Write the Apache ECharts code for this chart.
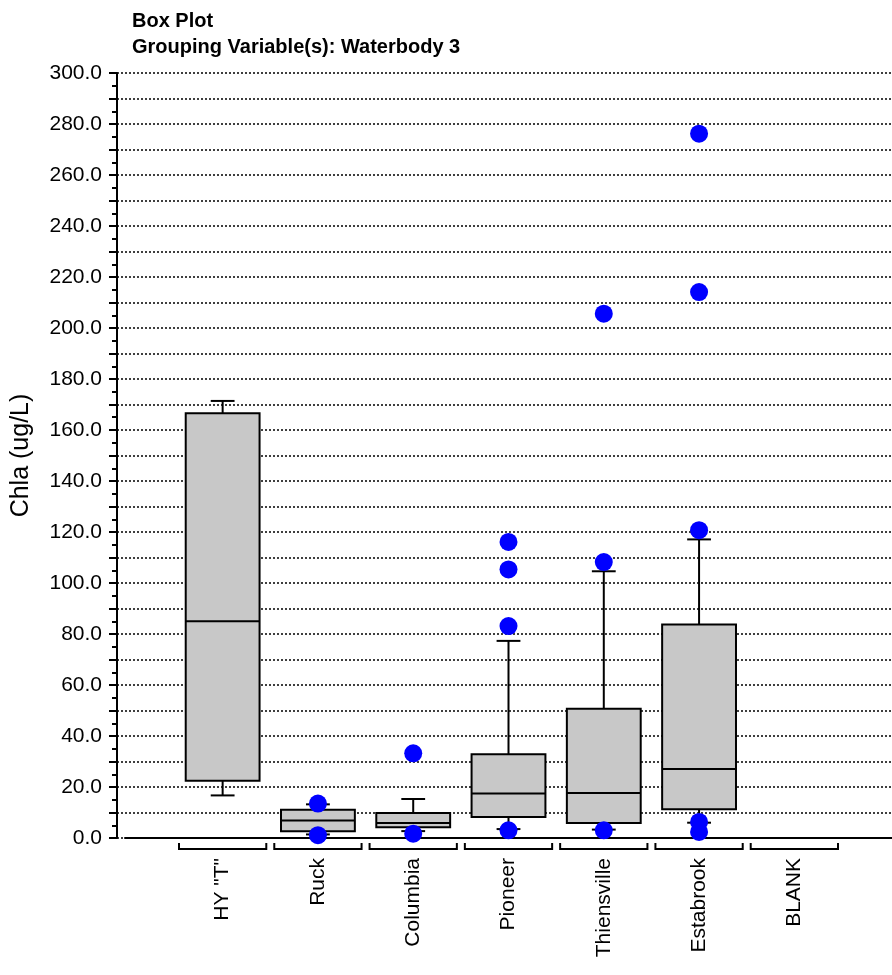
<!DOCTYPE html>
<html>
<head>
<meta charset="utf-8">
<script src="https://cdn.jsdelivr.net/npm/echarts@6/dist/echarts.min.js"></script>
<style>html,body{margin:0;padding:0;background:#fff}#c{width:892px;height:975px}</style>
</head>
<body>
<div id="c"></div>
<script>
// ---- data ----
const categories = ['HY "T"', 'Ruck', 'Columbia', 'Pioneer', 'Thiensville', 'Estabrook', 'BLANK'];
// [categoryIndex, lowerWhisker, q1, median, q3, upperWhisker]
const boxHY = [0, 16.7, 22.5, 85.0, 166.6, 171.4];
const boxRuck = [1, 1.4, 2.6, 6.9, 11.1, 13.2];
const boxColumbia = [2, 2.7, 4.2, 5.9, 9.8, 15.3];
const boxPioneer = [3, 3.5, 8.2, 17.5, 32.8, 77.3];
const boxThiensville = [4, 3.3, 5.9, 17.6, 50.7, 104.6];
const boxEstabrook = [5, 6.0, 11.3, 27.1, 83.7, 117.1];
// outliers [categoryIndex, value]
const outRuck = [[1, 13.5], [1, 1.1]];
const outColumbia = [[2, 33.2], [2, 1.7]];
const outPioneer = [[3, 116.1], [3, 105.3], [3, 83.1], [3, 3.0]];
const outThiensville = [[4, 205.6], [4, 108.2], [4, 3.0]];
const outEstabrook = [[5, 276.2], [5, 214.1], [5, 120.7], [5, 6.3], [5, 2.4]];
const yMin = 0, yMax = 300, yStep = 10, yLabelStep = 20;
const titleLines = ['Box Plot', 'Grouping Variable(s): Waterbody 3'];
const yName = 'Chla (ug/L)';

const boxes = [boxHY, boxRuck, boxColumbia, boxPioneer, boxThiensville, boxEstabrook];
const outliers = [].concat(outRuck, outColumbia, outPioneer, outThiensville, outEstabrook);

const FONT = 'Liberation Sans, Arial, Helvetica, sans-serif';
const TOP = 73, BOTTOM = 137;

const chart = echarts.init(document.getElementById('c'), null, {renderer: 'canvas'});
const lineStyle = {stroke: '#000', lineWidth: 2};

chart.setOption({
  animation: false,
  backgroundColor: '#fff',
  title: {
    text: titleLines.join('\n'),
    left: 127, top: 3,
    textStyle: {fontFamily: FONT, fontSize: 20, fontWeight: 'bold', color: '#000', lineHeight: 26}
  },
  grid: [
    {left: 117, right: 0, top: TOP, bottom: BOTTOM, outerBoundsMode: 'none'},
    {left: 175, right: 50, top: TOP, bottom: BOTTOM, outerBoundsMode: 'none'},
    {left: 125, right: 0, top: TOP, bottom: BOTTOM, outerBoundsMode: 'none'}
  ],
  xAxis: [
    {gridIndex: 0, type: 'value', min: 0, max: 1, show: false},
    {gridIndex: 1, type: 'category', data: categories, boundaryGap: true,
      axisLine: {show: false}, axisTick: {show: false}, splitLine: {show: false},
      axisLabel: {interval: 0, rotate: 90, margin: 20, fontSize: 21, fontFamily: FONT, color: '#000'}},
    {gridIndex: 2, type: 'value', min: 0, max: 1, offset: 3,
      axisLine: {show: true, lineStyle: {color: '#000', width: 2}},
      axisTick: {show: false}, axisLabel: {show: false}, splitLine: {show: false}}
  ],
  yAxis: [
    {gridIndex: 0, type: 'value', min: yMin, max: yMax, interval: yStep, offset: 3,
      name: yName, nameLocation: 'middle', nameGap: 80,
      nameTextStyle: {fontFamily: FONT, fontSize: 25, color: '#000'},
      axisLine: {show: true, lineStyle: {color: '#000', width: 2}},
      axisTick: {show: true, length: 8, lineStyle: {color: '#000', width: 2}},
      minorTick: {show: true, splitNumber: 2, length: 5, lineStyle: {color: '#000', width: 2}},
      axisLabel: {margin: 12, fontSize: 21, fontFamily: FONT, color: '#000',
        formatter: v => (Math.round(v) % yLabelStep === 0 ? v.toFixed(1) : '')},
      splitLine: {show: true, lineStyle: {color: '#000', width: 1.5, type: [2, 2]}},
      minorSplitLine: {show: false}},
    {gridIndex: 1, type: 'value', min: yMin, max: yMax, show: false},
    {gridIndex: 2, type: 'value', min: yMin, max: yMax, show: false}
  ],
  series: [
    {
      type: 'custom', xAxisIndex: 1, yAxisIndex: 1, z: 3,
      data: boxes,
      encode: {x: 0, y: [1, 2, 3, 4, 5]},
      renderItem: function (params, api) {
        const i = api.value(0);
        const low = api.coord([i, api.value(1)]);
        const q1 = api.coord([i, api.value(2)]);
        const med = api.coord([i, api.value(3)]);
        const q3 = api.coord([i, api.value(4)]);
        const high = api.coord([i, api.value(5)]);
        const w = api.size([1, 0])[0];
        const bw = w * 0.775, cw = w * 0.25;
        const cx = q1[0];
        return {type: 'group', children: [
          {type: 'line', shape: {x1: cx, y1: q3[1], x2: cx, y2: high[1]}, style: lineStyle},
          {type: 'line', shape: {x1: cx - cw / 2, y1: high[1], x2: cx + cw / 2, y2: high[1]}, style: lineStyle},
          {type: 'line', shape: {x1: cx, y1: q1[1], x2: cx, y2: low[1]}, style: lineStyle},
          {type: 'line', shape: {x1: cx - cw / 2, y1: low[1], x2: cx + cw / 2, y2: low[1]}, style: lineStyle},
          {type: 'rect', shape: {x: cx - bw / 2, y: q3[1], width: bw, height: q1[1] - q3[1]},
            style: {fill: '#c8c8c8', stroke: '#000', lineWidth: 2}},
          {type: 'line', shape: {x1: cx - bw / 2, y1: med[1], x2: cx + bw / 2, y2: med[1]}, style: lineStyle}
        ]};
      }
    },
    {
      type: 'scatter', xAxisIndex: 1, yAxisIndex: 1, z: 5,
      data: outliers, symbol: 'circle', symbolSize: 18,
      itemStyle: {color: '#0000ff', opacity: 1}
    },
    {
      type: 'custom', xAxisIndex: 1, yAxisIndex: 1, z: 4, clip: false,
      data: categories.map((c, i) => [i, yMin]),
      encode: {x: 0, y: 1},
      renderItem: function (params, api) {
        const c = api.coord([api.value(0), api.value(1)]);
        const w = api.size([1, 0])[0];
        const x0 = c[0] - w / 2 + 4, x1 = c[0] + w / 2 - 4;
        const yl = c[1] + 11, yt = c[1] + 5;
        return {type: 'polyline', shape: {points: [[x0, yt], [x0, yl], [x1, yl], [x1, yt]]},
          style: {stroke: '#000', lineWidth: 2, fill: null}};
      }
    }
  ]
});
</script>
</body>
</html>
